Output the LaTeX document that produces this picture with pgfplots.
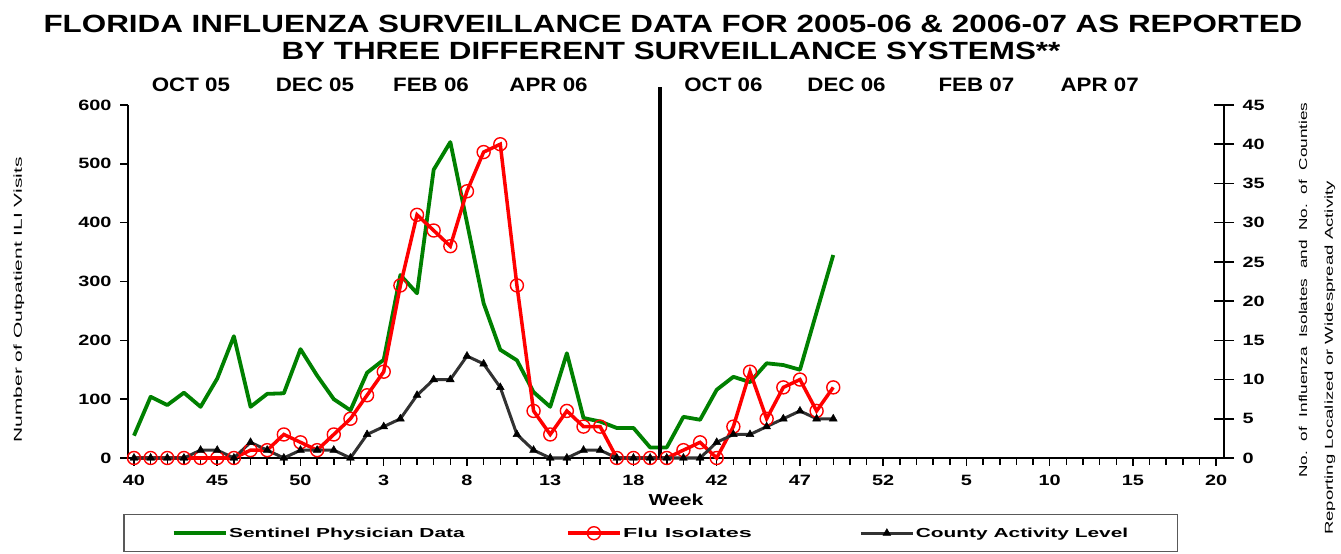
\documentclass[border=0pt]{standalone}
\usepackage{fontspec}
\setmainfont{Liberation Sans}
\newfontfamily\titlefont{Liberation Sans}[FakeStretch=1.26]
\newfontfamily\tickfont{Liberation Sans}[FakeStretch=1.33]
\newfontfamily\monthfont{Liberation Sans}[FakeStretch=1.15]
\newfontfamily\legfont{Liberation Sans}[FakeStretch=1.6]
\usepackage{graphicx}
\usepackage{pgfplots}
\usepackage{pgfplotstable}
\pgfplotsset{compat=1.18}

\definecolor{sentgreen}{RGB}{0,128,0}
\definecolor{flured}{RGB}{255,0,0}
\definecolor{countygray}{RGB}{50,50,50}

% week index: 0 = wk 40 of 2005 ... 32 = wk 20 of 2006, 33 = wk 40 of 2006
\pgfplotstableread{
idx sent flu county
0 38 0 0
1 104 0 0
2 90 0 0
3 111 0 0
4 87 0 1
5 135 0 1
6 207 0 0
7 87 1 2
8 109 1 1
9 110 3 0
10 185 2 1
11 140 1 1
12 100 3 1
13 81 5 0
14 145 8 3
15 167 11 4
16 311 22 5
17 280 31 8
18 490 29 10
19 537 27 10
20 400 34 13
21 263 39 12
22 184 40 9
23 166 22 3
24 112 6 1
25 87 3 0
26 178 6 0
27 68 4 1
28 62 4 1
29 51 0 0
30 51 0 0
31 18 0 0
32 18 0 0
33 70 1 0
34 65 2 0
35 116 0 2
36 138 4 3
37 129 11 3
38 161 5 4
39 158 9 5
40 150 10 6
41 248 6 5
42 345 9 5
}\fludata

\pgfplotsset{
  chartbase/.style={
    at={(128bp,96bp)}, anchor=south west,
    scale only axis, width=1096bp, height=353bp,
    xmin=-0.36, xmax=65.47,
    axis line style={-, line width=1.8bp},
    every tick/.style={line width=1.5bp, black},
    tick label style={font=\fontsize{15}{15}\tickfont\bfseries},
    /pgf/number format/assume math mode=true,
  },
}

\begin{document}
\begin{tikzpicture}
\useasboundingbox (0,0) rectangle (1341bp,554bp);

\node[anchor=base, font=\fontsize{25}{25}\titlefont\bfseries] at (673bp,521bp)
  {FLORIDA INFLUENZA SURVEILLANCE DATA FOR 2005-06 \& 2006-07 AS REPORTED};
\node[anchor=base, font=\fontsize{25}{25}\titlefont\bfseries] at (671bp,494bp)
  {BY THREE DIFFERENT SURVEILLANCE SYSTEMS**};

\begin{axis}[chartbase,
    ymin=0, ymax=600,
    axis x line*=bottom, axis y line*=left,
    xtick={0,5,...,65},
    xticklabels={40,45,50,3,8,13,18,42,47,52,5,10,15,20},
    minor xtick={0,...,65},
    ytick={0,100,...,600},
    tick align=outside,
    major tick length=8bp, minor tick length=7bp,
    xtick pos=bottom, ytick pos=left,
    xticklabel style={yshift=-6bp},
    yticklabel style={xshift=-5bp},
    xlabel={Week},
    xlabel style={font=\fontsize{16}{16}\tickfont\bfseries, yshift=-1bp},
  ]
  \addplot[sentgreen, line width=3.8bp, line join=round] table[x=idx, y=sent] {\fludata};
\end{axis}

\begin{axis}[chartbase,
    ymin=0, ymax=45,
    axis y line*=right, axis x line=none,
    ytick={0,5,...,45},
    tick align=center, major tick length=20bp,
    ytick pos=right,
    yticklabel style={xshift=5bp},
    clip=false,
    legend columns=3,
    legend style={at={(-0.0045,-0.1586)}, anchor=north west,
      draw=black!65, line width=1.5bp, inner xsep=48bp, inner ysep=11bp,
      font=\fontsize{13.1}{14}\legfont\bfseries,
      nodes={inner xsep=1.5bp},
      /tikz/column 2/.style={column sep=100bp},
      /tikz/column 4/.style={column sep=106bp}},
    legend image code/.code={%
      \draw[mark repeat=2, mark phase=2, #1] plot coordinates {(0bp,0bp) (26bp,0bp) (52bp,0bp)};},
  ]
  \addlegendimage{sentgreen, line width=3.8bp}
  \addlegendentry{Sentinel Physician Data}
  \addplot[flured, line width=3.5bp, mark=o, mark size=6.5bp,
    mark options={line width=1.4bp}] table[x=idx, y=flu] {\fludata};
  \addlegendentry{\scalebox{1.12}[1]{Flu Isolates}}
  \addplot[countygray, line width=3bp, mark=triangle*, mark size=4.5bp,
    mark options={fill=black, draw=black, line width=0.5bp}] table[x=idx, y=county] {\fludata};
  \addlegendentry{County Activity Level}

  % season separator
  \draw[black, line width=4.5bp] (axis cs:31.6,0) -- (axis cs:31.6,47.3);

  % month captions above the plot
  \begin{scope}[every node/.style={font=\fontsize{19.5}{19.5}\monthfont\bfseries}]
  \node at (axis cs:3.42,47.6) {OCT 05};
  \node at (axis cs:10.87,47.6) {DEC 05};
  \node at (axis cs:17.84,47.6) {FEB 06};
  \node at (axis cs:24.9,47.6) {APR 06};
  \node at (axis cs:35.4,47.6) {OCT 06};
  \node at (axis cs:42.8,47.6) {DEC 06};
  \node at (axis cs:50.6,47.6) {FEB 07};
  \node at (axis cs:58.0,47.6) {APR 07};
  \end{scope}
\end{axis}

\node[rotate=90, font=\fontsize{11.5}{11.5}\selectfont] at (19bp,254bp)
  {\scalebox{1.83}[1]{Number of Outpatient ILI Visits}};
\node[rotate=90, font=\fontsize{11.5}{11.5}\selectfont] at (1303bp,264bp)
  {\scalebox{1.5}[1]{\makebox[250bp][s]{No.\hfill of\hfill Influenza\hfill Isolates\hfill and\hfill No.\hfill of\hfill Counties}}};
\node[rotate=90, font=\fontsize{11.5}{11.5}\selectfont] at (1330bp,196bp)
  {\scalebox{1.62}[1]{Reporting Localized or Widespread Activity}};
\end{tikzpicture}
\end{document}
